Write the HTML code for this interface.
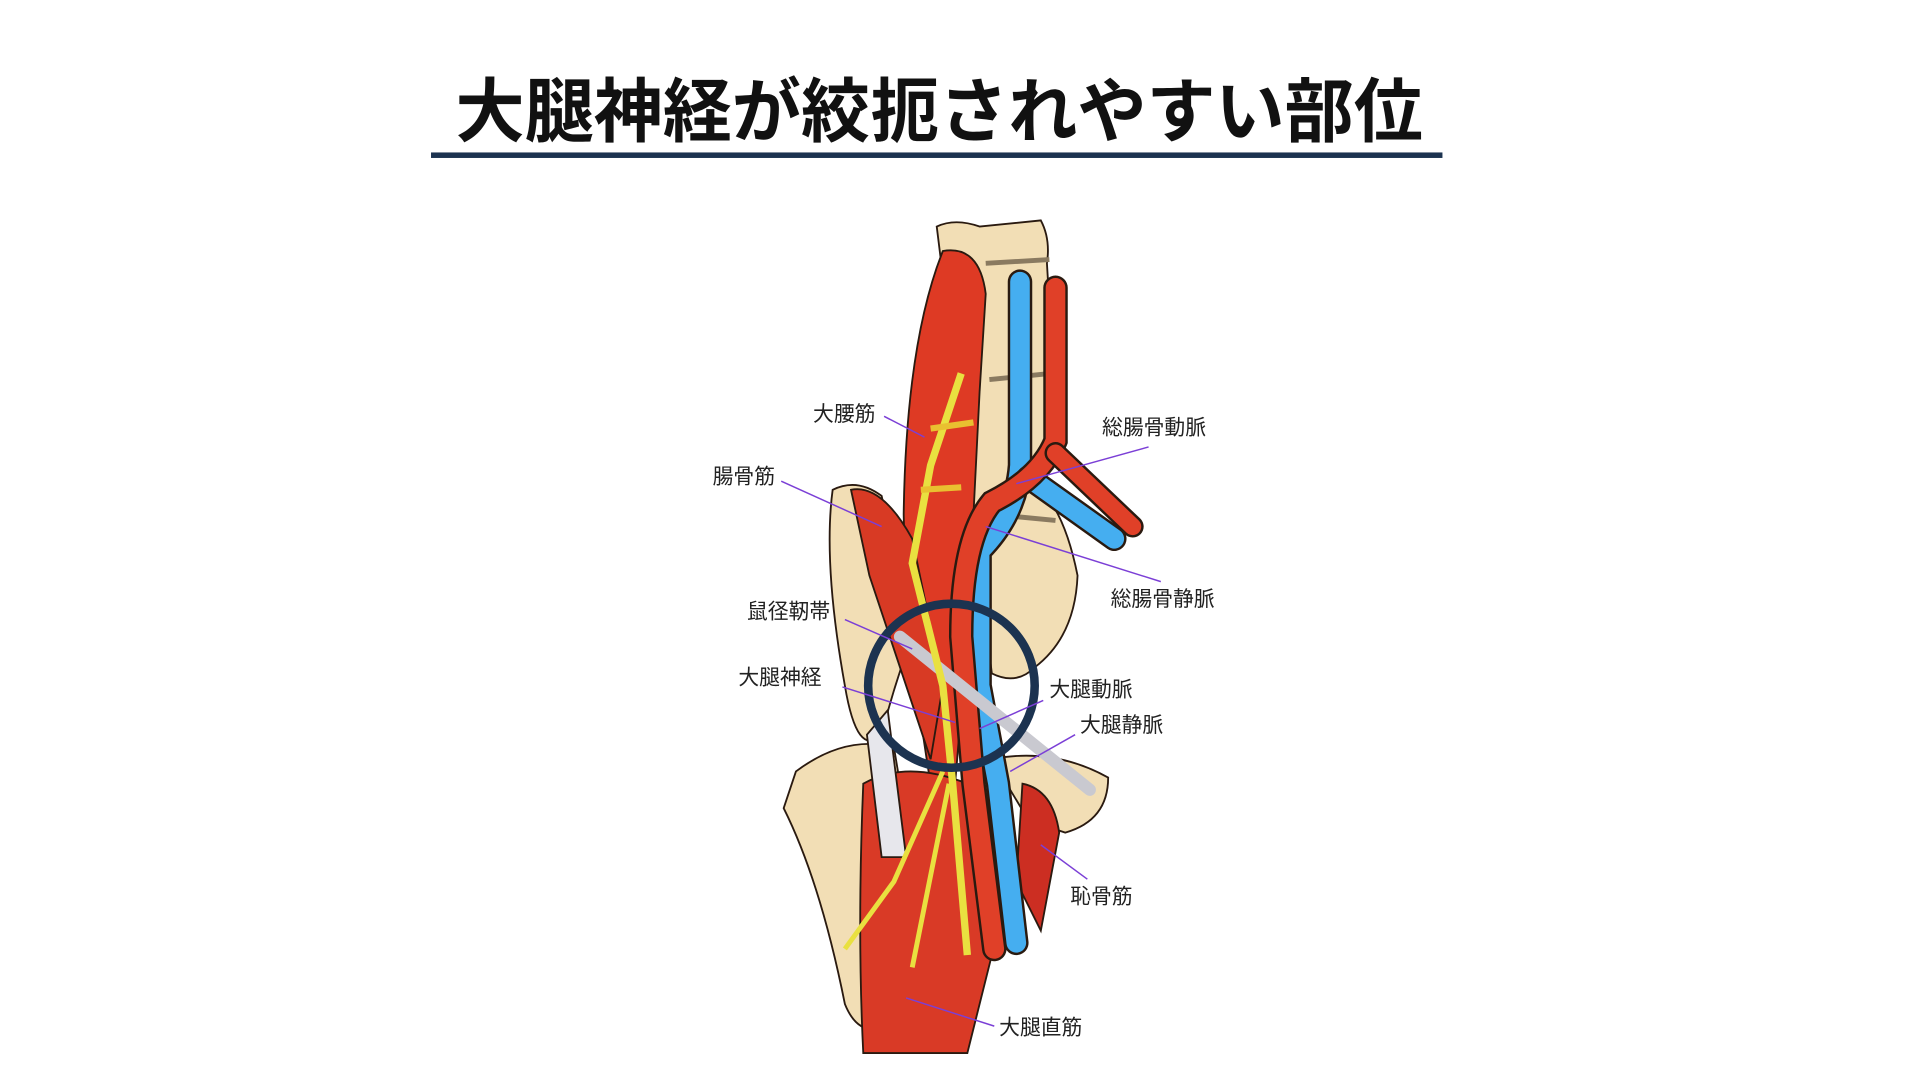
<!DOCTYPE html>
<html><head><meta charset="utf-8"><style>
html,body{margin:0;padding:0;background:#fff;width:1920px;height:1080px;overflow:hidden}
svg{display:block}
text{font-family:"Liberation Sans","Noto Sans CJK JP",sans-serif}
</style></head><body>
<svg width="1920" height="1080" viewBox="0 0 1568 882" xmlns="http://www.w3.org/2000/svg">
<text x="767" y="111" text-anchor="middle" font-size="57" font-weight="bold" fill="#111" textLength="790" lengthAdjust="spacingAndGlyphs" style="font-family:'Noto Sans CJK JP',sans-serif">大腿神経が絞扼されやすい部位</text>
<rect x="352" y="124.5" width="826" height="4.5" fill="#1c3350"/>
<g stroke="#2a1a10" stroke-width="1.5">
<path d="M765 185 Q780 178 800 185 L850 180 Q858 195 855 215 L860 300 Q865 360 850 400 Q870 420 880 470 Q878 520 845 545 Q830 560 810 550 Z" fill="#f2deb5"/>
<path d="M805 215 L857 212 M808 310 L858 305 M810 420 L862 425" stroke="#8a7a60" stroke-width="4" fill="none"/>
<path d="M680 400 Q700 390 720 405 L745 520 Q730 560 720 600 Q700 620 690 560 Q672 460 680 400 Z" fill="#f2deb5"/>
<path d="M650 630 Q690 600 730 610 L745 700 L720 840 Q700 845 690 820 Q670 720 640 660 Z" fill="#f2deb5"/>
<path d="M810 620 Q860 610 905 635 Q905 670 870 680 L840 670 Z" fill="#f2deb5"/>
<path d="M770 205 Q800 200 805 240 L800 320 Q795 420 790 520 L780 640 L760 640 Q740 520 738 420 Q740 280 770 205 Z" fill="#de3a24"/>
<path d="M695 400 Q720 395 745 440 L770 560 L760 620 Q740 560 710 470 Z" fill="#d83a24"/>
<path d="M705 640 Q740 620 790 640 L810 780 L790 860 L705 860 Q700 760 705 640 Z" fill="#d93a26"/>
<path d="M835 640 Q860 645 865 680 L850 760 L830 720 Z" fill="#cc2e22"/>
<path d="M725 580 L740 700 L720 700 L708 600 Z" fill="#e7e7ec"/>
</g>
<path d="M833 230 L833 380 Q830 420 800 450 L800 560 L815 640 L830 770" stroke="#2a1a10" stroke-width="20" fill="none" stroke-linecap="round"/>
<path d="M833 230 L833 380 Q830 420 800 450 L800 560 L815 640 L830 770" stroke="#45aef0" stroke-width="16" fill="none" stroke-linecap="round"/>
<path d="M840 390 L910 440" stroke="#2a1a10" stroke-width="20" stroke-linecap="round"/>
<path d="M840 390 L910 440" stroke="#45aef0" stroke-width="16" stroke-linecap="round"/>
<path d="M862 235 L862 360 Q850 390 810 410 Q785 440 785 520 L795 640 L812 775" stroke="#2a1a10" stroke-width="20" fill="none" stroke-linecap="round"/>
<path d="M862 235 L862 360 Q850 390 810 410 Q785 440 785 520 L795 640 L812 775" stroke="#e04028" stroke-width="16" fill="none" stroke-linecap="round"/>
<path d="M862 370 L925 430" stroke="#2a1a10" stroke-width="18" stroke-linecap="round"/>
<path d="M862 370 L925 430" stroke="#e04028" stroke-width="14" stroke-linecap="round"/>
<path d="M735 520 L890 645" stroke="#c9c9d0" stroke-width="10" stroke-linecap="round"/>
<path d="M785 305 L760 380 L745 460 L770 560 L778 640 L790 780" stroke="#e9e040" stroke-width="6" fill="none"/>
<path d="M760 350 L795 345 M752 400 L785 398" stroke="#e9c030" stroke-width="5" fill="none"/>
<path d="M770 630 L730 720 L690 775 M775 640 L745 790" stroke="#e9e040" stroke-width="4" fill="none"/>
<ellipse cx="777" cy="560" rx="68" ry="67" fill="none" stroke="#1c3350" stroke-width="7"/>
<g stroke="#7b3fd6" stroke-width="1.2">
<line x1="722" y1="340" x2="755" y2="357"/>
<line x1="638" y1="393" x2="720" y2="430"/>
<line x1="690" y1="506" x2="745" y2="530"/>
<line x1="688" y1="561" x2="780" y2="590"/>
<line x1="938" y1="365" x2="830" y2="395"/>
<line x1="948" y1="475" x2="805" y2="430"/>
<line x1="852" y1="572" x2="800" y2="595"/>
<line x1="878" y1="600" x2="825" y2="630"/>
<line x1="888" y1="718" x2="850" y2="690"/>
<line x1="812" y1="838" x2="740" y2="815"/>
</g>
<g font-size="17" fill="#222">
<text x="664" y="344">大腰筋</text>
<text x="582" y="395">腸骨筋</text>
<text x="610" y="505">鼠径靭帯</text>
<text x="603" y="559">大腿神経</text>
<text x="900" y="355">総腸骨動脈</text>
<text x="907" y="495">総腸骨静脈</text>
<text x="857" y="569">大腿動脈</text>
<text x="882" y="598">大腿静脈</text>
<text x="874" y="738">恥骨筋</text>
<text x="816" y="845">大腿直筋</text>
</g>
</svg>
</body></html>
